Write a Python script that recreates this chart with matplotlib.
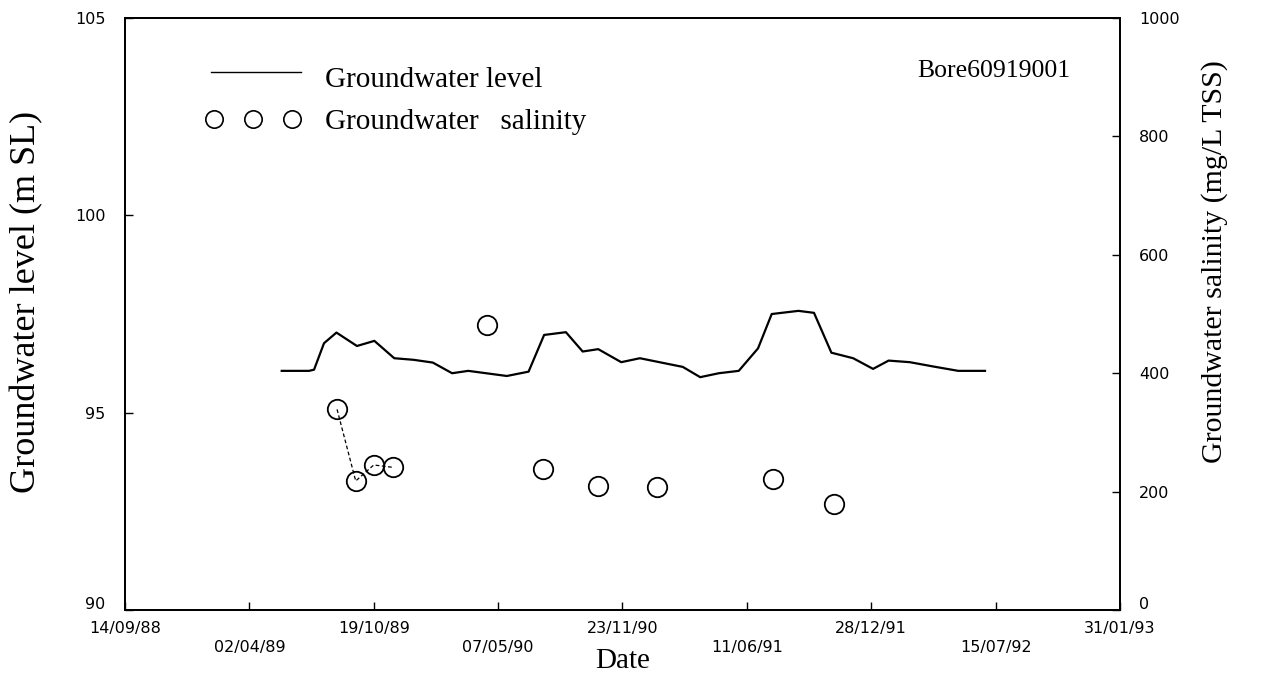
import numpy as np
import pandas as pd
import matplotlib
matplotlib.use('Agg')
import matplotlib.pyplot as plt
import matplotlib.transforms as mtransforms

# groundwater level record (m SL)
level_dates = ['1989-05-24', '1989-07-07', '1989-07-15', '1989-07-31', '1989-08-20',
               '1989-09-22', '1989-10-20', '1989-11-21', '1989-12-22', '1990-01-22',
               '1990-02-22', '1990-03-20', '1990-05-21', '1990-06-25', '1990-07-20',
               '1990-08-24', '1990-09-20', '1990-10-15', '1990-11-21', '1990-12-21',
               '1991-02-28', '1991-03-28', '1991-04-27', '1991-05-29', '1991-06-29',
               '1991-07-21', '1991-09-02', '1991-09-27', '1991-10-25', '1991-11-29',
               '1991-12-31', '1992-01-25', '1992-02-28', '1992-04-06', '1992-05-16',
               '1992-06-28']
level = [96.06, 96.06, 96.09, 96.76, 97.03,
         96.69, 96.82, 96.38, 96.34, 96.27,
         96.00, 96.06, 95.93, 96.04, 96.97,
         97.04, 96.55, 96.61, 96.28, 96.38,
         96.16, 95.90, 96.00, 96.06, 96.63,
         97.50, 97.58, 97.53, 96.52, 96.38,
         96.11, 96.32, 96.28, 96.17, 96.06,
         96.06]

# groundwater salinity samples (mg/L TSS)
sal_dates = ['1989-08-21', '1989-09-20', '1989-10-19', '1989-11-19', '1990-04-19',
             '1990-07-18', '1990-10-15', '1991-01-17', '1991-07-23', '1991-10-29']
salinity = [339, 218, 245, 241, 481, 239, 209, 208, 222, 179]

tick_dates = ['1988-09-14', '1989-04-02', '1989-10-19', '1990-05-07', '1990-11-23',
              '1991-06-11', '1991-12-28', '1992-07-15', '1993-01-31']
tick_labels = ['14/09/88', '02/04/89', '19/10/89', '07/05/90', '23/11/90',
               '11/06/91', '28/12/91', '15/07/92', '31/01/93']

level_dates = pd.to_datetime(level_dates)
sal_dates = pd.to_datetime(sal_dates)
tick_dates = pd.to_datetime(tick_dates)

serif = 'Liberation Serif'
sans = 'DejaVu Sans'

fig = plt.figure(figsize=(12.77, 6.8), dpi=100)
ax = fig.add_axes([0.0979, 0.1029, 0.7791, 0.8706])
ax2 = ax.twinx()

ax.plot(level_dates, level, color='black', lw=1.6)

# first samples are joined with a dashed trace
ax2.plot(sal_dates[:4], salinity[:4], color='black', lw=0.9, ls=(0, (3, 2)))
ax2.plot(sal_dates, salinity, ls='none', marker='o', ms=14, mfc='none',
         mec='black', mew=1.3)

ax.set_xlim(tick_dates[0], tick_dates[-1])
ax.set_ylim(90, 105)
ax2.set_ylim(0, 1000)

ax.set_xticks(tick_dates)
ax.set_xticklabels([t if i % 2 == 0 else '\n' + t for i, t in enumerate(tick_labels)],
                   fontfamily=sans, fontsize=11.5, linespacing=1.3)
ax.set_yticks([90, 95, 100, 105])
ax2.set_yticks([0, 200, 400, 600, 800, 1000])
for a in (ax, ax2):
    a.tick_params(direction='in', length=6, width=1, labelsize=11.5)
    for lab in a.get_yticklabels():
        lab.set_fontfamily(sans)
    for s in a.spines.values():
        s.set_linewidth(1.3)
ax.tick_params(axis='x', pad=8)
ax.tick_params(axis='y', pad=14)
ax2.tick_params(axis='y', pad=14)

# lift the bottom value labels clear of the first date
lift = mtransforms.ScaledTranslation(0, 7 / 100, fig.dpi_scale_trans)
for lab in (ax.get_yticklabels()[0], ax2.get_yticklabels()[0]):
    lab.set_transform(lab.get_transform() + lift)

ax.set_xlabel('Date', fontfamily=serif, fontsize=21, va='top')
ax.xaxis.set_label_coords(0.5, -0.064)
ax.set_ylabel('Groundwater level (m SL)', fontfamily=serif, fontsize=26)
ax.yaxis.set_label_coords(-0.082, 0.52)
ax2.set_ylabel('Groundwater salinity (mg/L TSS)', fontfamily=serif, fontsize=21.5)
ax2.yaxis.set_label_coords(1.082, 0.588)

# hand-made key
tr = ax.transAxes
ax.plot([0.086, 0.177], [0.909, 0.909], color='black', lw=1.0, transform=tr)
ax.plot([0.089, 0.129, 0.168], [0.830, 0.830, 0.830], ls='none', marker='o', ms=12.5,
        mfc='none', mec='black', mew=1.2, transform=tr)
ax.text(0.201, 0.883, 'Groundwater level', fontfamily=serif, fontsize=21,
        va='baseline', transform=tr)
ax.text(0.201, 0.812, 'Groundwater   salinity', fontfamily=serif, fontsize=21,
        va='baseline', transform=tr)
ax.text(0.950, 0.900, 'Bore60919001', fontfamily=serif, fontsize=18.5,
        va='baseline', ha='right', transform=tr)

fig.savefig('out.png', dpi=100)
